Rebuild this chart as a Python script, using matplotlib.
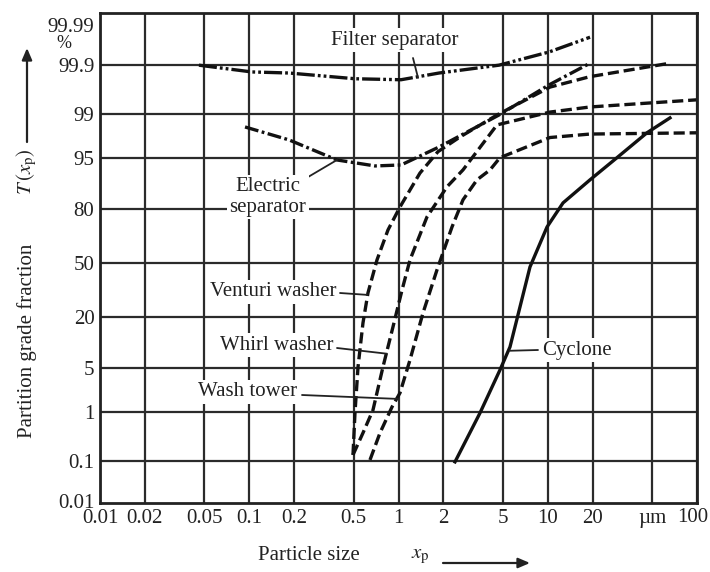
import math
import numpy as np
import matplotlib
matplotlib.use("Agg")
import matplotlib.pyplot as plt

plt.rcParams['font.family'] = ['Liberation Serif', 'DejaVu Serif']
plt.rcParams['mathtext.fontset'] = 'stix'
plt.rcParams['lines.scale_dashes'] = False

# ---------------- data (particle size in um, grade efficiency in %) ----------------
filter_x = [0.046, 0.104, 0.185, 0.511, 1.04, 1.87, 4.71, 10.2, 19.2]
filter_y = [99.90, 99.858, 99.85, 99.80, 99.79, 99.85, 99.90, 99.951, 99.979]

electric_x = [0.0937, 0.185, 0.387, 0.696, 1.04, 1.87, 4.71, 10.2, 19.2]
electric_y = [98.32, 97.27, 94.62, 93.52, 93.71, 96.50, 98.96, 99.73, 99.91]

venturi_x = [0.4955, 0.511, 0.5355, 0.578, 0.6245, 0.7177, 0.8504, 1.023, 1.393,
             1.839, 2.583, 4.57, 10.35, 19.2, 65.9]
venturi_y = [0.135, 0.954, 5.21, 17.4, 32.0, 51.9, 69.7, 80.9, 92.0,
             95.9, 97.55, 98.96, 99.70, 99.82, 99.91]

whirl_x = [0.4955, 0.578, 0.6747, 0.787, 0.9186, 1.056, 1.194, 1.552, 2.113,
           2.705, 4.57, 10.35, 19.2, 100.0]
whirl_y = [0.135, 0.395, 1.08, 5.21, 15.9, 33.6, 51.9, 76.4, 88.3,
           92.7, 98.45, 99.08, 99.26, 99.46]

wash_x = [0.644, 0.7516, 0.9045, 1.023, 1.194, 1.459, 1.811, 2.283, 2.705,
          3.357, 4.104, 4.786, 10.35, 19.2, 100.0]
wash_y = [0.104, 0.395, 1.22, 2.11, 6.48, 21.7, 45.7, 71.3, 83.8,
          90.3, 92.7, 95.0, 97.5, 97.8, 97.9]

cyclone_x = [2.391, 3.516, 4.786, 5.585, 6.516, 7.603, 9.89, 12.66, 19.2, 29.1, 46.2, 65.9]
cyclone_y = [0.094, 0.954, 4.73, 9.47, 24.6, 47.5, 71.3, 82.6, 90.3, 95.0, 97.9, 98.83]

x_ticks = [0.01, 0.02, 0.05, 0.1, 0.2, 0.5, 1, 2, 5, 10, 20, 50, 100]
x_labels = ['0.01', '0.02', '0.05', '0.1', '0.2', '0.5', '1', '2', '5', '10', '20', 'µm', '100']
y_ticks = [0.01, 0.1, 1, 5, 20, 50, 80, 95, 99, 99.9, 99.99]
y_labels = ['0.01', '0.1', '1', '5', '20', '50', '80', '95', '99', '99.9', '99.99']

# ---------------- normal probability scale ----------------
_a = [-3.969683028665376e+01, 2.209460984245205e+02, -2.759285104469687e+02,
      1.383577518672690e+02, -3.066479806614716e+01, 2.506628277459239e+00]
_b = [-5.447609879822406e+01, 1.615858368580409e+02, -1.556989798598866e+02,
      6.680131188771972e+01, -1.328068155288572e+01]
_c = [-7.784894002430293e-03, -3.223964580411365e-01, -2.400758277161838e+00,
      -2.549732539343734e+00, 4.374664141464968e+00, 2.938163982698783e+00]
_d = [7.784695709041462e-03, 3.224671290700398e-01, 2.445134137142996e+00,
      3.754408661907416e+00]


def _ppf(p):
    p = np.clip(np.asarray(p, dtype=float), 1e-12, 1 - 1e-12)
    plow = 0.02425
    ql = np.sqrt(-2 * np.log(np.minimum(p, 0.5)))
    xl = (((((_c[0]*ql+_c[1])*ql+_c[2])*ql+_c[3])*ql+_c[4])*ql+_c[5]) / \
         ((((_d[0]*ql+_d[1])*ql+_d[2])*ql+_d[3])*ql+1)
    qh = np.sqrt(-2 * np.log(np.minimum(1 - p, 0.5)))
    xh = -(((((_c[0]*qh+_c[1])*qh+_c[2])*qh+_c[3])*qh+_c[4])*qh+_c[5]) / \
         ((((_d[0]*qh+_d[1])*qh+_d[2])*qh+_d[3])*qh+1)
    q = p - 0.5
    r = q * q
    xc = (((((_a[0]*r+_a[1])*r+_a[2])*r+_a[3])*r+_a[4])*r+_a[5])*q / \
         (((((_b[0]*r+_b[1])*r+_b[2])*r+_b[3])*r+_b[4])*r+1)
    return np.where(p < plow, xl, np.where(p > 1 - plow, xh, xc))


_erf = np.vectorize(math.erf)


def fwd(v):
    return _ppf(np.asarray(v, dtype=float) / 100.0)


def inv(z):
    z = np.asarray(z, dtype=float)
    return 100.0 * 0.5 * (1 + _erf(z / math.sqrt(2)))


# ---------------- figure ----------------
W, H = 710, 572
fig = plt.figure(figsize=(W / 100, H / 100), dpi=100)
ax = fig.add_axes([100 / W, 1 - 503 / H, 597 / W, 490 / H])
ax.set_xscale('log')
ax.set_yscale('function', functions=(fwd, inv))
ax.set_xlim(0.01, 100)
ax.set_ylim(0.0088, 99.9953)

ax.set_xticks(x_ticks)
ax.set_xticklabels(x_labels[:-1] + [''])
ax.xaxis.set_minor_locator(matplotlib.ticker.NullLocator())
ax.set_yticks(y_ticks)
ax.set_yticklabels(y_labels)
ax.yaxis.set_minor_locator(matplotlib.ticker.NullLocator())
ax.tick_params(length=0, labelsize=15, colors='#222222')
ax.tick_params(axis='y', pad=4)
ax.tick_params(axis='x', pad=4)
ax.grid(True, color='#2b2b2b', linewidth=1.6)
ax.set_axisbelow(True)
glines = ax.yaxis.get_gridlines()
glines[0].set_visible(False)
glines[-1].set_visible(False)
for s in ax.spines.values():
    s.set_linewidth(2.0)
    s.set_color('#222222')

lc = '#111111'
lw = 2.4
ax.plot(filter_x, filter_y, color=lc, lw=lw, ls=(0, (13, 2.2, 2, 2.2, 2, 2.2)))
ax.plot(electric_x, electric_y, color=lc, lw=lw, ls=(0, (10, 2.5, 2, 2.5)))
ax.plot(venturi_x, venturi_y, color=lc, lw=lw, ls=(0, (8, 3.5)))
ax.plot(whirl_x, whirl_y, color=lc, lw=lw, ls=(0, (8, 3.5)))
ax.plot(wash_x, wash_y, color=lc, lw=lw, ls=(0, (8, 3.5)))
ax.plot(cyclone_x, cyclone_y, color=lc, lw=lw, ls='-')


def fx(px):
    return px / W


def fy(py):
    return 1 - py / H


bb = dict(fc='white', ec='none', pad=1.5)
fs = 15
tc = '#222222'
fig.text(fx(395), fy(40), 'Filter separator', ha='center', va='center', fontsize=fs, color=tc, bbox=bb)
fig.text(fx(268), fy(197), 'Electric\nseparator', ha='center', va='center', fontsize=fs,
         color=tc, bbox=bb, linespacing=1.1)
fig.text(fx(337), fy(292), 'Venturi washer', ha='right', va='center', fontsize=fs, color=tc, bbox=bb)
fig.text(fx(333), fy(345), 'Whirl washer', ha='right', va='center', fontsize=fs, color=tc, bbox=bb)
fig.text(fx(297), fy(392), 'Wash tower', ha='right', va='center', fontsize=fs, color=tc, bbox=bb)
fig.text(fx(542), fy(350), 'Cyclone', ha='left', va='center', fontsize=fs, color=tc, bbox=bb)

leaders = [((413, 58), (1.351, 99.81)),
           ((303, 180), (0.387, 94.62)),
           ((340, 293), (0.615, 30.9)),
           ((337, 348), (0.838, 7.8)),
           ((302, 395), (0.992, 1.68)),
           ((538, 350), (5.585, 8.5))]
for (tx, ty), (dx, dy) in leaders:
    ax.annotate('', xy=(dx, dy), xycoords='data', xytext=(fx(tx), fy(ty)),
                textcoords='figure fraction',
                arrowprops=dict(arrowstyle='-', color=tc, lw=1.3, shrinkA=0, shrinkB=0))

# last x tick label, kept inside the picture
fig.text(fx(708), fy(517), x_labels[-1], ha='right', va='center', fontsize=fs, color=tc)

# axis labels
fig.text(fx(27), fy(341), 'Partition grade fraction', rotation=90, ha='center', va='center',
         fontsize=fs, color=tc)
fig.text(fx(27), fy(172), r'$T\,(x_\mathrm{p})$', rotation=90, ha='center', va='center',
         fontsize=fs, color=tc)
fig.add_artist(matplotlib.patches.FancyArrowPatch((fx(27), fy(142)), (fx(27), fy(48)),
               transform=fig.transFigure, arrowstyle='-|>,head_length=7,head_width=3',
               color=tc, lw=1.6, shrinkA=0, shrinkB=0))

fig.text(fx(309), fy(556), 'Particle size', ha='center', va='center', fontsize=fs, color=tc)
fig.text(fx(420), fy(556), r'$x_\mathrm{p}$', ha='center', va='center', fontsize=fs, color=tc)
fig.add_artist(matplotlib.patches.FancyArrowPatch((fx(443), fy(563)), (fx(530), fy(563)),
               transform=fig.transFigure, arrowstyle='-|>,head_length=7,head_width=3',
               color=tc, lw=1.6, shrinkA=0, shrinkB=0))

fig.text(fx(64), fy(44), '%', ha='center', va='center', fontsize=13, color=tc)

fig.savefig('out.png', dpi=100)
